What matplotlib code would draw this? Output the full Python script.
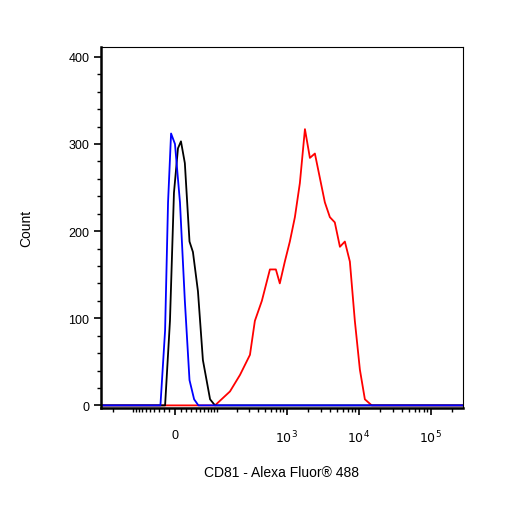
import numpy as np
import matplotlib
matplotlib.use("Agg")
import matplotlib.pyplot as plt
plt.rcParams['font.family'] = ['Liberation Sans', 'DejaVu Sans']

W = 56.0
def fwd(x):
    return np.arcsinh(np.asarray(x, float) / W) / np.log(10)
def inv(f):
    return W * np.sinh(np.asarray(f, float) * np.log(10))

red_x = [-296, 93, 158, 221, 306, 359, 450, 583, 706, 801, 941, 1105, 1299, 1523, 1792, 2100, 2464, 2890,
         3390, 3980, 4660, 5490, 6430, 7550, 8850, 10400, 12200, 15200, 280000]
red_y = [0, 0, 16, 35, 58, 97, 120, 156, 156, 140, 165, 188, 216, 255, 317, 284, 289, 261,
         233, 216, 210, 182, 188, 165, 97, 41, 7, 0, 0]
blue_x = [-296, -27, -18, -12.5, -7, 0, 9, 18, 27, 36.5, 46, 280000]
blue_y = [0, 0, 86, 233, 312, 300, 233, 120, 29, 7, 0, 0]
black_x = [-296, -18, -9, -1.8, 5.4, 10.8, 18, 27, 34, 45, 57, 77, 93, 280000]
black_y = [0, 0, 97, 244, 295, 303, 278, 188, 176, 131, 52, 7, 0, 0]

xticks = [0, 1e3, 1e4, 1e5]
xticklabels = ["0", "$10^3$", "$10^4$", "$10^5$"]
yticks = [0, 100, 200, 300, 400]

fig = plt.figure(figsize=(5.06, 5.06), dpi=100)
ax = fig.add_axes([0.1996, 0.1917, 0.715, 0.713])
ax.set_xscale("function", functions=(fwd, inv))
ax.plot(red_x, red_y, color="red", lw=1.3)
ax.plot(black_x, black_y, color="black", lw=1.3)
ax.plot(blue_x, blue_y, color="blue", lw=1.3)
ax.set_xlim(-296, 280000)
ax.set_ylim(-3, 411)

minor = []
for d in [10, 100, 1000, 10000, 100000]:
    for m in range(1, 10):
        v = m * d
        if v not in xticks and v < 280000:
            minor.append(v)
minor += [-v for v in [10, 20, 30, 40, 50, 60, 70, 80, 90, 100, 200]]
ax.set_xticks(xticks)
ax.set_xticklabels(xticklabels, fontsize=9)
ax.set_xticks(minor, minor=True)
ax.set_yticks(yticks)
ax.set_yticklabels([str(v) for v in yticks], fontsize=9)
ax.set_yticks(np.arange(0, 411, 20), minor=True)
ax.tick_params(axis="both", which="major", direction="out", length=5, width=1.2)
ax.tick_params(axis="both", which="minor", direction="out", length=3, width=1)
ax.tick_params(axis="x", pad=10)
for s in ["left", "bottom"]:
    ax.spines[s].set_linewidth(1.8)
for s in ["top", "right"]:
    ax.spines[s].set_linewidth(0.8)
ax.set_xlabel("CD81 - Alexa Fluor\u00ae 488", fontsize=10, labelpad=14)
ax.set_ylabel("Count", fontsize=10, labelpad=25)
fig.savefig("out.png", dpi=100)
